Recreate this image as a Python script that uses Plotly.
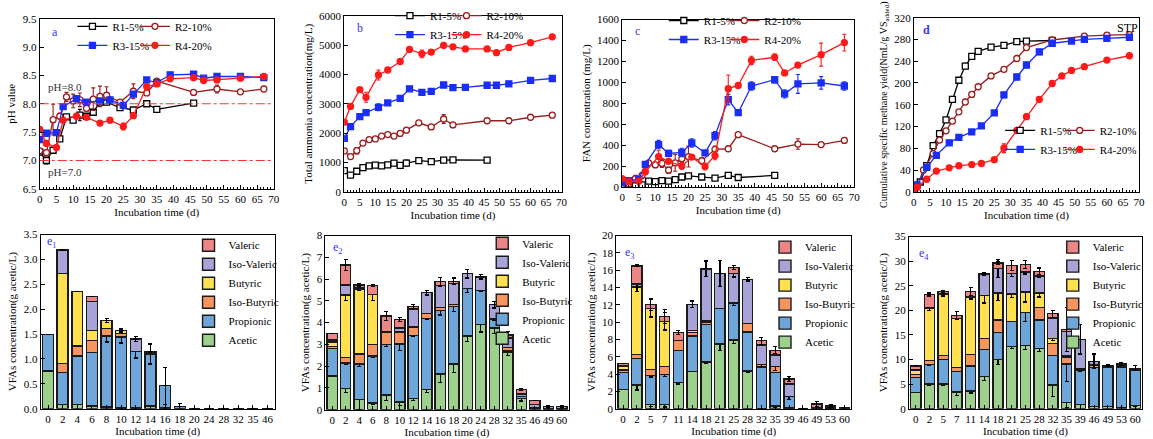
import plotly.graph_objects as go

W, H = 1153, 439
FONT = "Liberation Serif"

# ---------------- top-row data ----------------
series_names = ["R1-5%", "R2-10%", "R3-15%", "R4-20%"]

day_r1 = [0, 2, 4, 6, 8, 10, 12, 14, 16, 18, 20, 24, 28, 32, 35, 46]
day_r2 = [0, 2, 4, 6, 8, 10, 12, 14, 16, 18, 20, 24, 28, 32, 35, 46, 53, 60, 67]
day_r34 = [0, 2, 5, 7, 11, 14, 18, 21, 25, 28, 32, 35, 39, 46, 49, 53, 60, 67]

# (a) pH
ph_r1 = [7.15, 7.0, 7.18, 7.38, 7.77, 7.71, 7.8, 7.78, 7.85, 8.03, 8.03, 7.93, 7.89, 8.0, 7.9, 8.01]
ph_r2 = [7.17, 7.14, 7.72, 7.78, 8.12, 8.05, 8.07, 7.92, 8.08, 8.13, 8.15, 8.03, 8.22, 8.19, 8.4, 8.2, 8.26, 8.21, 8.26]
ph_r3 = [7.37, 7.48, 7.49, 7.95, 8.09, 8.03, 8.05, 8.07, 7.97, 8.17, 8.42, 8.37, 8.51, 8.52, 8.45, 8.48, 8.48, 8.46]
ph_r4 = [7.55, 7.3, 7.23, 7.71, 7.78, 7.76, 7.66, 7.71, 7.6, 7.79, 8.3, 8.35, 8.44, 8.46, 8.41, 8.42, 8.45, 8.48]
ph_e1 = [0.02, 0.06, 0.05, 0.03, 0.02, 0.03, 0.1, 0.02, 0.03, 0.02, 0.02, 0.02, 0.02, 0.02, 0.02, 0.02]
ph_e2 = [0.03, 0.05, 0.27, 0.05, 0.08, 0.12, 0.12, 0.05, 0.2, 0.18, 0.15, 0.03, 0.13, 0.04, 0.03, 0.03, 0.07, 0.03, 0.03]
ph_e3 = [0.03, 0.03, 0.03, 0.03, 0.03, 0.03, 0.03, 0.03, 0.03, 0.03, 0.03, 0.03, 0.03, 0.03, 0.03, 0.03, 0.03, 0.03]
ph_e4 = [0.03, 0.03, 0.03, 0.03, 0.03, 0.03, 0.03, 0.03, 0.06, 0.05, 0.05, 0.03, 0.03, 0.03, 0.03, 0.03, 0.03, 0.03]

# (b) total ammonia
tan_r1 = [720, 570, 700, 820, 880, 910, 880, 920, 980, 900, 980, 1060, 1030, 1080, 1090, 1080]
tan_r2 = [1390, 1200, 1400, 1660, 1780, 1800, 1900, 1950, 1900, 1990, 2100, 2350, 2210, 2480, 2280, 2420, 2420, 2540, 2610]
tan_r3 = [1820, 2220, 2560, 2700, 2880, 3030, 3180, 3510, 3390, 3420, 3640, 3550, 3560, 3630, 3630, 3680, 3800, 3860]
tan_r4 = [2370, 2910, 3480, 3220, 3980, 4150, 4440, 4850, 4700, 4760, 4990, 4940, 4870, 4870, 4740, 4920, 5080, 5280]
tan_e1 = [40, 80, 30, 20, 20, 20, 20, 20, 30, 20, 100, 20, 20, 20, 20, 20]
tan_e2 = [80, 60, 110, 40, 40, 30, 30, 30, 40, 40, 40, 40, 40, 150, 30, 30, 30, 30, 30]
tan_e3 = [60, 60, 50, 40, 120, 40, 40, 40, 40, 40, 60, 40, 30, 30, 30, 30, 40, 30]
tan_e4 = [50, 80, 60, 170, 170, 40, 40, 40, 130, 80, 100, 40, 30, 30, 40, 40, 40, 40]

# (c) FAN
fan_r1 = [0, 5, 10, 20, 55, 50, 60, 55, 70, 95, 105, 95, 85, 110, 90, 110]
fan_r2 = [20, 30, 80, 110, 230, 210, 225, 160, 230, 270, 290, 250, 360, 365, 500, 365, 410, 405, 445]
fan_r3 = [40, 60, 75, 215, 405, 320, 330, 420, 325, 490, 835, 710, 965, 1025, 890, 985, 995, 965]
fan_r4 = [80, 50, 55, 145, 290, 245, 200, 285, 195, 300, 940, 970, 1210, 1240, 1090, 1165, 1265, 1380]
fan_e1 = [5, 5, 5, 5, 5, 5, 5, 5, 5, 5, 5, 5, 5, 5, 5, 5]
fan_e2 = [10, 10, 30, 20, 20, 20, 40, 30, 80, 40, 100, 30, 30, 20, 10, 20, 50, 20, 15]
fan_e3 = [15, 15, 15, 20, 40, 30, 40, 40, 15, 40, 50, 20, 40, 30, 40, 90, 60, 40]
fan_e4 = [20, 15, 15, 20, 60, 20, 30, 20, 30, 40, 130, 20, 40, 30, 20, 20, 110, 80]

# (d) cumulative methane yield
dd_r1 = [0, 1, 2, 4, 6, 8, 10, 12, 14, 16, 18, 20, 24, 28, 32, 35, 43]
dd_r2 = [0, 1, 3, 6, 8, 10, 12, 14, 16, 18, 20, 24, 28, 32, 35, 43, 53, 60, 67]
dd_r3 = [0, 1, 4, 7, 11, 14, 18, 21, 25, 28, 32, 35, 39, 43, 49, 53, 60, 67]
dd_r4 = [0, 1, 4, 7, 11, 14, 18, 21, 25, 28, 32, 35, 39, 43, 46, 49, 53, 60, 67]
cm_r1 = [0, 12, 18, 48, 85, 107, 132, 170, 205, 231, 249, 258, 266, 269, 276, 277, 278]
cm_r2 = [0, 10, 40, 70, 95, 112, 130, 147, 165, 179, 193, 213, 225, 245, 265, 279, 286, 288, 289]
cm_r3 = [0, 12, 45, 67, 90, 100, 110, 121, 145, 178, 211, 233, 257, 273, 277, 280, 282, 284]
cm_r4 = [0, 8, 23, 38, 44, 48, 50, 52, 59, 80, 113, 138, 170, 199, 213, 223, 230, 242, 250]
cm_e1 = [0, 2, 2, 3, 3, 4, 4, 4, 5, 5, 5, 4, 3, 3, 3, 3, 3]
cm_e2 = [0, 2, 2, 3, 3, 3, 3, 3, 3, 3, 3, 3, 3, 3, 3, 3, 3, 3, 3]
cm_e3 = [0, 2, 3, 3, 3, 3, 3, 3, 4, 5, 5, 5, 5, 4, 3, 3, 3, 3]
cm_e4 = [0, 2, 2, 3, 3, 3, 3, 3, 3, 8, 5, 5, 5, 4, 3, 3, 3, 3, 4]

# ---------------- bottom-row data (VFAs) ----------------
vfa_names = ["Acetic", "Propionic", "Iso-Butyric", "Butyric", "Iso-Valeric", "Valeric"]

e1_days = ["0", "2", "4", "6", "8", "10", "12", "14", "16", "18", "20", "24", "28", "32", "35", "46"]
e1_acetic = [0.76, 0.08, 0.09, 0.05, 0.03, 0.01, 0.01, 0.05, 0.01, 0, 0, 0, 0, 0, 0, 0]
e1_propionic = [0.73, 0.65, 0.97, 1.08, 1.43, 1.43, 1.14, 1.05, 0.45, 0.04, 0, 0, 0, 0, 0, 0]
e1_isobutyric = [0, 0.18, 0.20, 0.24, 0.15, 0.07, 0, 0, 0, 0, 0, 0, 0, 0, 0, 0]
e1_butyric = [0, 1.81, 1.09, 0.20, 0.16, 0.06, 0, 0, 0, 0, 0, 0, 0, 0, 0, 0]
e1_isovaleric = [0, 0.47, 0, 0.58, 0, 0, 0.25, 0.04, 0, 0, 0, 0, 0, 0, 0, 0]
e1_valeric = [0, 0, 0, 0.10, 0, 0, 0, 0, 0, 0, 0, 0, 0, 0, 0, 0]
e1_err_propionic = [0, 0, 0, 0, 0.12, 0.12, 0.13, 0.2, 0.37, 0.06, 0, 0, 0, 0, 0, 0]
e1_err_butyric = [0, 0, 0, 0, 0.04, 0.03, 0, 0, 0, 0, 0, 0, 0, 0, 0, 0]
e1_err_isovaleric = [0, 0, 0, 0, 0, 0, 0.05, 0, 0, 0, 0, 0, 0, 0, 0, 0]

e2_days = ["0", "2", "4", "6", "8", "10", "12", "14", "16", "18", "20", "24", "28", "32", "35", "46", "49", "60"]
e2_acetic = [1.55, 0.98, 0.48, 0.30, 0.68, 0.35, 0.50, 0.92, 1.63, 2.10, 3.38, 3.92, 3.75, 2.65, 0.50, 0.05, 0, 0]
e2_propionic = [1.25, 1.17, 1.62, 2.17, 2.30, 2.67, 2.90, 3.28, 2.92, 2.65, 2.20, 1.55, 0.40, 0.07, 0.10, 0.05, 0.05, 0.05]
e2_isobutyric = [0.10, 0.25, 0.45, 0.53, 0.59, 0.53, 0.40, 0.22, 0.15, 0.07, 0, 0, 0.05, 0.13, 0, 0, 0, 0]
e2_butyric = [0.20, 2.87, 3.00, 2.28, 0.03, 0.05, 0, 0, 0, 0, 0, 0, 0, 0, 0, 0, 0, 0]
e2_isovaleric = [0.10, 0.45, 0.07, 0, 0, 0.15, 0.82, 0.95, 1.00, 0.98, 0.67, 0.63, 0.62, 0.45, 0.12, 0.15, 0.10, 0.10]
e2_valeric = [0.30, 0.93, 0.11, 0.42, 0.70, 0.40, 0.11, 0, 0.18, 0.10, 0, 0, 0, 0.13, 0.20, 0.17, 0, 0]
e2_err_acetic = [0, 0.2, 0.5, 0.08, 0.25, 0.15, 0.08, 0.15, 0.4, 0.4, 0.25, 0.35, 0.25, 0.15, 0.1, 0, 0, 0]
e2_err_propionic = [0, 0.05, 0.1, 0.05, 0.08, 0.3, 0.05, 0.05, 0.2, 0.25, 0.2, 0.05, 0.05, 0, 0, 0, 0, 0]
e2_err_butyric = [0, 0.25, 0.05, 0.25, 0, 0, 0, 0, 0, 0, 0, 0, 0, 0, 0, 0, 0, 0]
e2_err_isovaleric = [0, 0, 0, 0, 0, 0, 0, 0.1, 0, 0, 0.2, 0.1, 0.15, 0, 0, 0, 0.05, 0.05]
e2_err_valeric = [0, 0.25, 0.05, 0.05, 0.2, 0.1, 0.1, 0, 0.2, 0.15, 0, 0, 0, 0.15, 0.05, 0, 0, 0]

e3_days = ["0", "2", "5", "7", "11", "14", "18", "21", "25", "28", "32", "35", "39", "46", "49", "53", "60"]
e3_acetic = [2.2, 2.75, 0.45, 0.5, 3.05, 4.3, 5.4, 7.45, 7.95, 4.35, 0.05, 0.3, 0.1, 0, 0, 0, 0.05]
e3_propionic = [2.0, 3.05, 3.4, 3.45, 3.65, 4.1, 4.3, 4.1, 4.25, 4.5, 4.75, 3.9, 1.3, 0, 0, 0.1, 0.1]
e3_isobutyric = [0.25, 0.45, 0.7, 0.9, 1.2, 0.4, 0.3, 0, 0, 1.0, 0.3, 0.7, 0, 0, 0, 0, 0]
e3_butyric = [0.4, 7.8, 7.05, 5.25, 0, 0.2, 0.2, 0, 0, 0, 0, 0, 0, 0, 0, 0, 0]
e3_isovaleric = [0.1, 0.35, 0, 0, 0, 3.05, 5.95, 4.1, 3.4, 5.1, 2.25, 1.3, 1.45, 0, 0.1, 0.2, 0]
e3_valeric = [0.3, 2.1, 0.4, 0.55, 0.9, 0, 0, 0, 0.7, 0, 0.5, 0.55, 0.6, 0, 0.45, 0, 0]
e3_err_acetic = [0, 0.6, 0.2, 0.3, 0.2, 0, 0.15, 0.7, 0.4, 0.15, 0, 0.1, 0, 0, 0, 0, 0]
e3_err_propionic = [0, 0, 0.2, 0.2, 0, 0, 0, 0, 0.3, 0, 0, 0, 0.3, 0, 0, 0, 0]
e3_err_isobutyric = [0, 0, 0, 0, 0, 0, 0, 0, 0, 0, 0.2, 0.5, 0, 0, 0, 0, 0]
e3_err_butyric = [0, 0.5, 1.0, 1.0, 0, 0, 0, 0, 0, 0, 0, 0, 0, 0, 0, 0, 0]
e3_err_isovaleric = [0, 0.4, 0, 0, 0, 0.4, 0.9, 1.5, 0.4, 0.2, 0, 0, 0, 0, 0, 0.2, 0]
e3_err_valeric = [0, 0.1, 0.7, 0.8, 0.2, 0, 0, 0, 0.2, 0, 0.4, 0.4, 0.3, 0, 0.3, 0, 0]

e4_days = ["0", "2", "5", "7", "11", "14", "18", "21", "25", "28", "32", "35", "39", "46", "49", "53", "60"]
e4_acetic = [3.3, 5.0, 5.0, 3.4, 3.6, 6.5, 10.0, 12.6, 12.8, 12.2, 4.8, 1.2, 0.9, 0.5, 0.4, 0.3, 0.7]
e4_propionic = [3.1, 4.0, 5.0, 4.2, 5.1, 5.5, 5.5, 5.1, 6.7, 5.8, 6.0, 7.9, 7.0, 7.9, 8.0, 8.2, 7.2]
e4_isobutyric = [0.6, 0.8, 0.8, 0.8, 2.3, 2.3, 2.5, 0, 0, 2.6, 2.5, 1.4, 0.3, 0.5, 0.3, 0.4, 0]
e4_butyric = [0.9, 10.7, 12.5, 9.9, 11.7, 8.7, 5.5, 5.6, 4.2, 2.9, 1.0, 0.2, 0, 0, 0, 0, 0]
e4_isovaleric = [0, 0, 0, 0, 0, 4.4, 5.0, 4.2, 4.1, 3.5, 4.1, 5.0, 5.9, 0.7, 0, 0, 0]
e4_valeric = [0.8, 2.7, 0.5, 0.6, 1.1, 0, 1.1, 1.6, 1.5, 0.9, 0.9, 0.4, 0, 0, 0, 0.2, 0.3]
e4_err_acetic = [0, 0.3, 0.3, 0.7, 0.4, 0.7, 1.0, 0.3, 0.8, 0.6, 2.3, 1.0, 0, 0, 0, 0, 0.2]
e4_err_propionic = [0, 0.3, 0, 0, 0, 0, 0, 0, 1.7, 0, 0, 3.6, 0.3, 0, 0, 0, 0]
e4_err_butyric = [0, 0.5, 0.4, 0, 0.4, 1.5, 1.5, 0.7, 2.0, 0.8, 0.5, 0, 0, 0, 0, 0, 0]
e4_err_isovaleric = [0, 0, 0, 0, 0, 0.3, 1.8, 0.7, 0.4, 0.3, 0, 0, 3.0, 1.5, 0, 0, 0]
e4_err_valeric = [0, 0.3, 0.3, 0.8, 0.8, 0, 0.3, 1.0, 0.8, 0.7, 0.7, 4.5, 0, 0, 0.2, 0.3, 0.5]

# ---------------- styles ----------------
line_style = {
    "R1-5%": dict(color="#000000", symbol="square", fill="white"),
    "R2-10%": dict(color="#9A1C1C", symbol="circle", fill="white"),
    "R3-15%": dict(color="#1A2EF5", symbol="square", fill="#1A2EF5"),
    "R4-20%": dict(color="#FF1A1A", symbol="circle", fill="#FF1A1A"),
}
vfa_colors = {
    "Acetic": "#9DD08C",
    "Propionic": "#6FA6DA",
    "Iso-Butyric": "#F6955E",
    "Butyric": "#FFE04F",
    "Iso-Valeric": "#A9A4D8",
    "Valeric": "#EC8585",
}

# pixel rectangles (left, top, right, bottom) of the 8 plot areas
boxes = {
    1: (37, 13, 273, 188),
    2: (344, 10, 563, 191),
    3: (624, 14, 858, 186),
    4: (918, 12, 1145, 191),
    5: (38, 235, 274, 414),
    6: (325, 236, 570, 415),
    7: (618, 236, 855, 414),
    8: (913, 237, 1148, 414),
}

fig = go.Figure()


def sfx(i):
    return "" if i == 1 else str(i)


def lg(i):
    return "legend" if i == 1 else f"legend{i}"


def add_line(panel, name, x, y, err):
    st = line_style[name]
    col_left = name in ("R1-5%", "R3-15%")
    leg = lg(2 * panel - 1) if col_left else lg(2 * panel)
    fig.add_trace(go.Scatter(
        x=x, y=y, name=name, mode="lines+markers",
        xaxis="x" + sfx(panel), yaxis="y" + sfx(panel), legend=leg,
        line=dict(color=st["color"], width=1.3),
        marker=dict(symbol=st["symbol"], size=6, color=st["fill"],
                    line=dict(color=st["color"], width=1.3)),
        error_y=dict(type="data", array=err, color=st["color"], thickness=1.1, width=2),
    ))


top_sets = [
    (1, [(day_r1, ph_r1, ph_e1), (day_r2, ph_r2, ph_e2), (day_r34, ph_r3, ph_e3), (day_r34, ph_r4, ph_e4)]),
    (2, [(day_r1, tan_r1, tan_e1), (day_r2, tan_r2, tan_e2), (day_r34, tan_r3, tan_e3), (day_r34, tan_r4, tan_e4)]),
    (3, [(day_r1, fan_r1, fan_e1), (day_r2, fan_r2, fan_e2), (day_r34, fan_r3, fan_e3), (day_r34, fan_r4, fan_e4)]),
    (4, [(dd_r1, cm_r1, cm_e1), (dd_r2, cm_r2, cm_e2), (dd_r3, cm_r3, cm_e3), (dd_r4, cm_r4, cm_e4)]),
]
for panel, sets in top_sets:
    for name, (x, y, e) in zip(series_names, sets):
        add_line(panel, name, x, y, e)


def zeros(n):
    return [0] * n


bottom_sets = [
    (5, e1_days, [e1_acetic, e1_propionic, e1_isobutyric, e1_butyric, e1_isovaleric, e1_valeric],
     [zeros(16), e1_err_propionic, zeros(16), e1_err_butyric, e1_err_isovaleric, zeros(16)]),
    (6, e2_days, [e2_acetic, e2_propionic, e2_isobutyric, e2_butyric, e2_isovaleric, e2_valeric],
     [e2_err_acetic, e2_err_propionic, zeros(18), e2_err_butyric, e2_err_isovaleric, e2_err_valeric]),
    (7, e3_days, [e3_acetic, e3_propionic, e3_isobutyric, e3_butyric, e3_isovaleric, e3_valeric],
     [e3_err_acetic, e3_err_propionic, e3_err_isobutyric, e3_err_butyric, e3_err_isovaleric, e3_err_valeric]),
    (8, e4_days, [e4_acetic, e4_propionic, e4_isobutyric, e4_butyric, e4_isovaleric, e4_valeric],
     [e4_err_acetic, e4_err_propionic, zeros(17), e4_err_butyric, e4_err_isovaleric, e4_err_valeric]),
]
for panel, cats, vals, errs in bottom_sets:
    for name, v, e in zip(vfa_names, vals, errs):
        fig.add_trace(go.Bar(
            x=cats, y=v, name=name,
            xaxis="x" + sfx(panel), yaxis="y" + sfx(panel), legend=lg(panel + 4),
            marker=dict(color=vfa_colors[name], line=dict(color="#1a1a1a", width=1.4)),
            error_y=dict(type="data", array=e, color="black", thickness=1.2, width=2),
        ))


def base_axis(**kw):
    d = dict(showline=True, linecolor="black", linewidth=1, mirror=True,
             ticks="inside", ticklen=4, tickcolor="black", showgrid=False, zeroline=False,
             tickfont=dict(family=FONT, size=11, color="black"),
             title_font=dict(family=FONT, size=11, color="black"))
    d.update(kw)
    return d


layout = dict(
    width=W, height=H, margin=dict(l=0, r=0, t=0, b=0),
    paper_bgcolor="white", plot_bgcolor="white",
    barmode="stack", bargap=0.25,
    font=dict(family=FONT, size=11, color="black"),
)

y_specs = {
    1: dict(range=[6.5, 9.5], dtick=0.5, tickformat=".1f", title_text="pH value"),
    2: dict(range=[0, 6000], dtick=1000, title_text="Total ammonia concentration(mg/L)"),
    3: dict(range=[0, 1600], dtick=200, title_text="FAN concentration (mg/L)"),
    4: dict(range=[0, 320], dtick=40,
            title_text="Cumulative specific methane yield(NmL/g VS<sub>added</sub>)",
            title_font=dict(family=FONT, size=10, color="black")),
    5: dict(range=[0, 3.5], dtick=0.5, tickformat=".1f", title_text="VFAs concentration(g acetic/L)"),
    6: dict(range=[0, 8], dtick=1, title_text="VFAs concentration(g acetic/L)"),
    7: dict(range=[0, 20], dtick=2, title_text="VFAs concentration(g acetic/L)"),
    8: dict(range=[0, 35], dtick=5, title_text="VFAs concentration(g acetic/L)"),
}

for i, (l, t, r, b) in boxes.items():
    xd = [l / W, r / W]
    yd = [1 - b / H, 1 - t / H]
    if i <= 4:
        xa = base_axis(domain=xd, anchor="y" + sfx(i), range=[0, 70], dtick=5,
                       minor=dict(dtick=1, ticks="inside", ticklen=2, tickcolor="black"),
                       title_text="Incubation time (d)", title_standoff=4)
    else:
        xa = base_axis(domain=xd, anchor="y" + sfx(i), type="category", tickangle=0,
                       title_text="Incubation time (d)", title_standoff=2)
    ya = base_axis(domain=yd, anchor="x" + sfx(i), title_standoff=4, **y_specs[i])
    layout["xaxis" + sfx(i)] = xa
    layout["yaxis" + sfx(i)] = ya

# legends: (left px, top px)
legend_pos = {
    1: (70, 6), 2: (133, 6),
    3: (390, -5), 4: (447, -5),
    5: (666, 0), 6: (727, 0),
    7: (1005, 113), 8: (1065, 113),
    9: (187, 231), 10: (483, 229), 11: (768, 233), 12: (1058, 233),
}
for k, (px, py) in legend_pos.items():
    d = dict(x=px / W, y=1 - py / H, xanchor="left", yanchor="top",
             xref="paper", yref="paper", bgcolor="rgba(0,0,0,0)",
             font=dict(family=FONT, size=11, color="black"), tracegroupgap=0)
    if k >= 9:
        d["traceorder"] = "reversed"
    layout[lg(k)] = d

fig.update_layout(**layout)

# reference lines in panel a
for yv in (8.0, 7.0):
    fig.add_shape(type="line", xref="x domain", yref="y", x0=0, x1=1, y0=yv, y1=yv,
                  line=dict(color="#FF3030", width=1, dash="dashdot"))

fig.add_annotation(x=2, y=8.3, xref="x", yref="y", text="pH=8.0", showarrow=False,
                   xanchor="left", yanchor="middle", font=dict(family=FONT, size=11, color="#333"))
fig.add_annotation(x=2, y=6.8, xref="x", yref="y", text="pH=7.0", showarrow=False,
                   xanchor="left", yanchor="middle", font=dict(family=FONT, size=11, color="#333"))

letters = [
    (1, "a", 0.064, 0.92, False), (2, "b", 0.073, 0.93, False), (3, "c", 0.068, 0.93, False),
    (4, "d", 0.057, 0.93, True),
    (5, "e<sub>1</sub>", 0.047, 0.955, False), (6, "e<sub>2</sub>", 0.053, 0.93, False),
    (7, "e<sub>3</sub>", 0.06, 0.9, False), (8, "e<sub>4</sub>", 0.064, 0.9, False),
]
for i, txt, xx, yy, bold in letters:
    fig.add_annotation(x=xx, y=yy, xref="x" + sfx(i) + " domain", yref="y" + sfx(i) + " domain",
                       text=("<b>%s</b>" % txt) if bold else txt, showarrow=False,
                       xanchor="center", yanchor="middle",
                       font=dict(family=FONT, size=12, color="#3333FF"))

fig.add_annotation(x=0.947, y=0.94, xref="x4 domain", yref="y4 domain", text="STP",
                   showarrow=False, xanchor="center", yanchor="middle",
                   font=dict(family=FONT, size=12, color="black"))

fig.write_html("out.html", config={"displayModeBar": False},
               post_script="document.body.style.margin='0';document.body.style.overflow='hidden';")
